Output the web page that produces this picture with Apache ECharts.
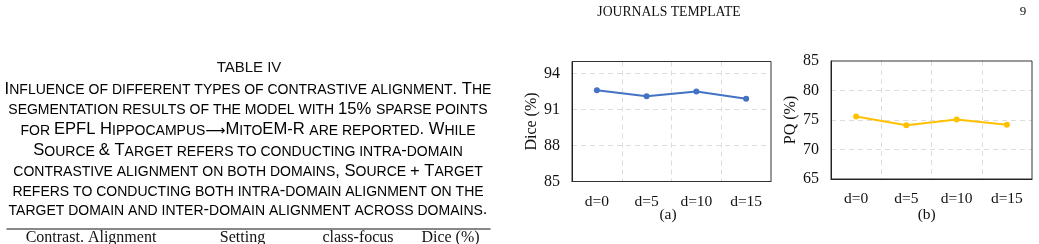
<!DOCTYPE html>
<html>
<head>
<meta charset="utf-8">
<script src="https://cdn.jsdelivr.net/npm/echarts@6/dist/echarts.min.js"></script>
<style>
html,body{margin:0;padding:0;background:#fff;}
#c{width:1039px;height:244px;}
</style>
</head>
<body>
<div id="c"></div>
<script>
// ---- data ----
const categories = ['d=0', 'd=5', 'd=10', 'd=15'];
const diceValues = [92.6, 92.1, 92.5, 91.9];
const pqValues = [75.6, 74.1, 75.1, 74.2];
const diceTicks = [85, 88, 91, 94];
const pqTicks = [65, 70, 75, 80, 85];
const headerTitle = 'JOURNALS TEMPLATE';
const pageNumber = '9';
const tableTitle = 'TABLE IV';
const captionLines = [
  'Influence of different types of contrastive alignment. The',
  'segmentation results of the model with 15% sparse points',
  'for EPFL Hippocampus\u27F6MitoEM-R are reported. While',
  'Source & Target refers to conducting intra-domain',
  'contrastive alignment on both domains, Source + Target',
  'refers to conducting both intra-domain alignment on the',
  'target domain and inter-domain alignment across domains.'
];
const tableHeaders = ['Contrast. Alignment', 'Setting', 'class-focus', 'Dice (%)'];
const subLabels = ['(a)', '(b)'];

// ---- helpers ----
const SERIF = '"Liberation Serif", "Times New Roman", serif';
const SANS = '"Liberation Sans", Arial, sans-serif';

function smallCaps(str) {
  let out = '', cur = null, buf = '';
  for (const ch of str) {
    let t = (ch >= 'a' && ch <= 'z') ? 's' : (ch === '\u27F6' ? 'a' : 'b');
    if (ch === ' ') t = cur || 'b';
    const c = t === 's' ? ch.toUpperCase() : ch;
    if (t !== cur && buf) { out += '{' + cur + '|' + buf + '}'; buf = ''; }
    cur = t; buf += c;
  }
  if (buf) out += '{' + cur + '|' + buf + '}';
  return out;
}

const capRich = {
  b: { fontFamily: SANS, fontSize: 16.6, color: '#111', verticalAlign: 'bottom' },
  s: { fontFamily: SANS, fontSize: 14.0, color: '#111', verticalAlign: 'bottom' },
  a: { fontFamily: '"DejaVu Sans", sans-serif', fontSize: 14, color: '#111', verticalAlign: 'bottom' }
};
const captionY = [89, 109, 129.5, 150.3, 171, 190.3, 209.7];
const headerX = [91, 242.5, 358, 450.5];

const graphics = [];
graphics.push({ type: 'text', x: 669, y: 12, style: { text: headerTitle, font: '13.7px ' + SERIF, fill: '#111', align: 'center', verticalAlign: 'middle' } });
graphics.push({ type: 'text', x: 1023, y: 12, style: { text: pageNumber, font: '13px ' + SERIF, fill: '#111', align: 'center', verticalAlign: 'middle' } });
graphics.push({ type: 'text', x: 249, y: 68.3, style: { text: tableTitle, font: '15px ' + SANS, fill: '#111', align: 'center', verticalAlign: 'middle' } });
captionLines.forEach((ln, i) => {
  graphics.push({ type: 'text', x: 248, y: captionY[i], style: { text: smallCaps(ln), rich: capRich, align: 'center', verticalAlign: 'middle' } });
});
graphics.push({ type: 'line', shape: { x1: 6.5, y1: 229, x2: 490.5, y2: 229 }, style: { stroke: '#111', lineWidth: 1 } });
tableHeaders.forEach((h, i) => {
  graphics.push({ type: 'text', x: headerX[i], y: 237.8, style: { text: h, font: '16px ' + SERIF, fill: '#111', align: 'center', verticalAlign: 'middle' } });
});
graphics.push({ type: 'text', x: 668, y: 214.5, style: { text: subLabels[0], font: '15.5px ' + SERIF, fill: '#111', align: 'center', verticalAlign: 'middle' } });
graphics.push({ type: 'text', x: 926.7, y: 214.5, style: { text: subLabels[1], font: '15.5px ' + SERIF, fill: '#111', align: 'center', verticalAlign: 'middle' } });

const gridLine = { show: true, showMinLine: false, showMaxLine: false, lineStyle: { color: '#dcdcdc', type: [5, 4], width: 1 } };

function xAxisCfg(gi) {
  return {
    type: 'category', gridIndex: gi, data: categories, boundaryGap: true,
    axisLine: { show: true, lineStyle: { color: '#111', width: 1 } },
    axisTick: { show: false },
    axisLabel: { color: '#111', fontFamily: SERIF, fontSize: 15.5, margin: 12 },
    splitLine: gridLine
  };
}
function yAxisCfg(gi, ticks, name) {
  const interval = ticks[1] - ticks[0];
  return {
    type: 'value', gridIndex: gi,
    min: ticks[0], max: gi === 0 ? 95 : ticks[ticks.length - 1], interval: interval,
    name: name, nameLocation: 'middle', nameGap: 31,
    nameTextStyle: { color: '#111', fontFamily: SERIF, fontSize: 16 },
    axisLine: { show: true, lineStyle: { color: '#111', width: 1 } },
    axisTick: { show: false },
    axisLabel: {
      color: '#111', fontFamily: SERIF, fontSize: 16, margin: 12,
      formatter: v => (ticks.indexOf(v) >= 0 ? String(v) : '')
    },
    splitLine: gridLine
  };
}

const chart = echarts.init(document.getElementById('c'), null, { renderer: 'canvas' });
chart.setOption({
  animation: false,
  backgroundColor: '#fff',
  grid: [
    { left: 572, top: 61.5, width: 199, height: 120, show: true, borderColor: '#333', borderWidth: 1, backgroundColor: 'transparent', z: 3 },
    { left: 831, top: 61, width: 201, height: 118, show: true, borderColor: '#333', borderWidth: 1, backgroundColor: 'transparent', z: 3 }
  ],
  xAxis: [xAxisCfg(0), xAxisCfg(1)],
  yAxis: [yAxisCfg(0, diceTicks, 'Dice (%)'), yAxisCfg(1, pqTicks, 'PQ (%)')],
  series: [
    { type: 'line', xAxisIndex: 0, yAxisIndex: 0, data: diceValues, symbol: 'circle', symbolSize: 6,
      lineStyle: { color: '#4472C4', width: 2 }, itemStyle: { color: '#4472C4' } },
    { type: 'line', xAxisIndex: 1, yAxisIndex: 1, data: pqValues, symbol: 'circle', symbolSize: 6,
      lineStyle: { color: '#FFC000', width: 2 }, itemStyle: { color: '#FFC000' } }
  ],
  graphic: graphics
});
</script>
</body>
</html>
